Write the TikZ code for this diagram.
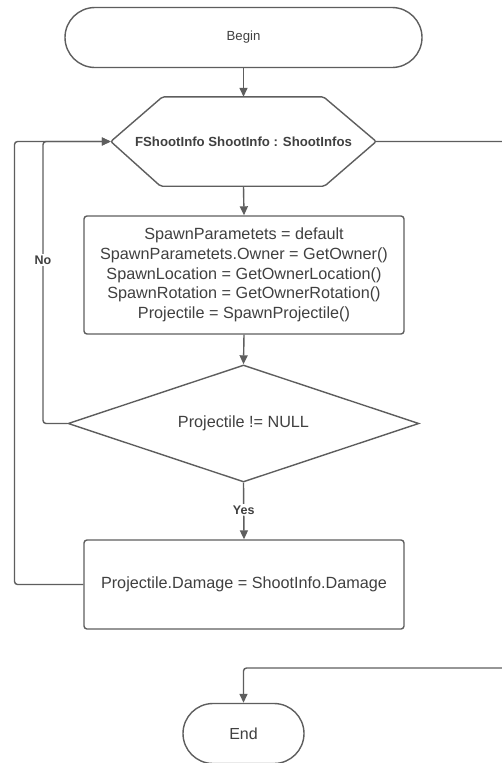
\documentclass[tikz,border=0pt]{standalone}
\usepackage{fontspec}
\setmainfont{Liberation Sans}
\usetikzlibrary{arrows.meta,shapes.misc,shapes.geometric,calc}
\definecolor{lc}{HTML}{5E5E5E}
\definecolor{tc}{HTML}{404040}
\tikzset{
  base/.style={draw=lc, line width=1.4pt, text=tc, inner sep=0pt, align=center},
  term/.style={base, rounded rectangle},
  proc/.style={base, rectangle, rounded corners=3pt, font=\fontsize{16.2}{19.8}\selectfont},
  dec/.style={base, diamond, font=\fontsize{16.2}{19.8}\selectfont},
  conn/.style={draw=lc, line width=1.4pt, rounded corners=3pt},
  arr/.style={conn, -{Triangle[length=9pt,width=8pt]}},
  lbl/.style={fill=white, text=tc, inner sep=1.5pt, font=\bfseries\fontsize{12.5}{14}\selectfont},
}
\begin{document}
\begin{tikzpicture}[x=1pt,y=-1pt]
\clip (0,0) rectangle (502,763);
\useasboundingbox (0,0) rectangle (502,763);
\fill[white] (0,0) rectangle (502,763);

\node[term, minimum width=357pt, minimum height=60pt, font=\fontsize{13.2}{15}\selectfont] (begin) at (243.5,37.5) {Begin};

\node[inner sep=0pt, minimum width=265pt, minimum height=89pt, text=tc, font=\bfseries\fontsize{13.2}{15}\selectfont] (hex) at (243.5,141.5) {FShootInfo ShootInfo : ShootInfos};
\draw[draw=lc, line width=1.4pt, rounded corners=2pt]
  (hex.west) -- ($(hex.north)+(-81,0)$) -- ($(hex.north)+(80,0)$) -- (hex.east)
  -- ($(hex.south)+(81,0)$) -- ($(hex.south)+(-83,0)$) -- cycle;

\node[proc, minimum width=320pt, minimum height=118pt] (box1) at (244,275)
  {SpawnParametets = default\\SpawnParametets.Owner = GetOwner()\\SpawnLocation = GetOwnerLocation()\\SpawnRotation = GetOwnerRotation()\\Projectile = SpawnProjectile()};

\node[dec, minimum width=351pt, minimum height=117pt, aspect=3] (dia) at (243.5,423.5) {Projectile != NULL};

\node[proc, minimum width=320pt, minimum height=89pt] (box2) at (244,584.5) {Projectile.Damage = ShootInfo.Damage};

\node[term, minimum width=121pt, minimum height=60pt, font=\fontsize{16}{18}\selectfont] (end) at (243.5,733.5) {End};

\coordinate (noc) at (43,423.5);
\coordinate (backc) at (14.5,584.5);
\coordinate (rt) at (506,141.5);
\coordinate (rb) at (506,668);

\draw[arr] (begin.south) -- (hex.north);
\draw[arr] (hex.south) -- (box1.north);
\draw[arr] (box1.south) -- (dia.north);
\draw[arr] (dia.south) -- node[lbl, pos=0.48] {Yes} (box2.north);
\draw[arr] (dia.west) -- (noc) |- node[lbl, pos=0.29] {No} (hex.west);
\draw[arr] (box2.west) -- (backc) |- (hex.west);
\draw[arr] (hex.east) -- (rt) -- (rb) -| (end.north);
\end{tikzpicture}
\end{document}
